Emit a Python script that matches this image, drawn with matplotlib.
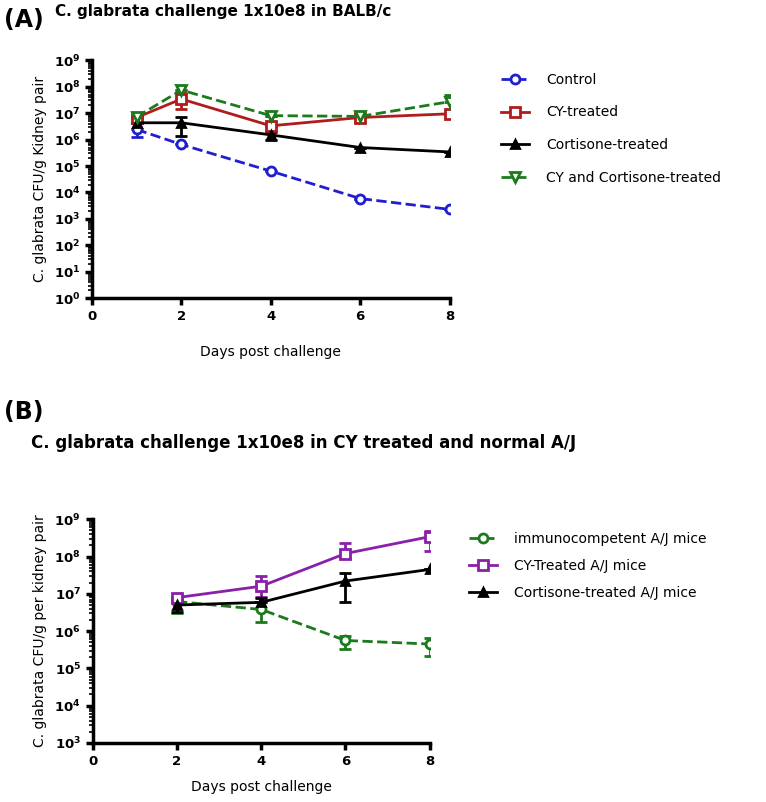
import numpy as np
import matplotlib
matplotlib.use("Agg")
import matplotlib.pyplot as plt
from matplotlib.ticker import FixedLocator, LogFormatterSciNotation, NullFormatter

# panel A: BALB/c
days_a = [1, 2, 4, 6, 8]
labels_a = ["Control", "CY-treated", "Cortisone-treated", "CY and Cortisone-treated"]
control = [2.4e6, 6.5e5, 6.4e4, 5.9e3, 2.3e3]
control_lo = [1.2e6, 6.5e5, 6.4e4, 5.9e3, 2.3e3]
control_hi = [2.4e6, 6.5e5, 6.4e4, 5.9e3, 2.3e3]
cy = [6.8e6, 3.4e7, 3.3e6, 6.8e6, 9.4e6]
cy_lo = [6.8e6, 1.4e7, 3.3e6, 6.8e6, 9.4e6]
cy_hi = [6.8e6, 5.5e7, 3.3e6, 6.8e6, 9.4e6]
cort = [4.3e6, 4.3e6, 1.5e6, 5.0e5, 3.4e5]
cort_lo = [4.3e6, 1.35e6, 1.0e6, 5.0e5, 3.4e5]
cort_hi = [4.3e6, 7.2e6, 1.9e6, 5.0e5, 3.4e5]
cy_cort = [7.2e6, 7.4e7, 8.0e6, 7.5e6, 2.7e7]
cy_cort_lo = [7.2e6, 7.4e7, 8.0e6, 7.5e6, 2.7e7]
cy_cort_hi = [7.2e6, 7.4e7, 8.0e6, 7.5e6, 5.0e7]

# panel B: A/J
days_b = [2, 4, 6, 8]
labels_b = ["immunocompetent A/J mice", "CY-Treated A/J mice", "Cortisone-treated A/J mice"]
immuno = [6.2e6, 3.8e6, 5.6e5, 4.5e5]
immuno_lo = [3.0e6, 1.7e6, 3.3e5, 2.2e5]
immuno_hi = [6.2e6, 6.2e6, 7.4e5, 6.5e5]
cy_aj = [7.9e6, 1.6e7, 1.2e8, 3.4e8]
cy_aj_lo = [7.9e6, 8.3e6, 9.0e7, 1.4e8]
cy_aj_hi = [7.9e6, 3.0e7, 2.3e8, 4.9e8]
cort_aj = [5.0e6, 5.9e6, 2.2e7, 4.5e7]
cort_aj_lo = [3.3e6, 5.9e6, 6.2e6, 4.5e7]
cort_aj_hi = [6.8e6, 7.6e6, 3.7e7, 4.5e7]


def err(y, lo, hi):
    y = np.array(y)
    return [y - np.array(lo), np.array(hi) - y]


def style_axes(ax, ymin, ymax):
    ax.set_yscale("log")
    ax.set_xlim(0, 8)
    ax.set_ylim(10.0 ** ymin, 10.0 ** ymax)
    ax.set_xticks([0, 2, 4, 6, 8])
    decades = np.arange(ymin, ymax + 1)
    ax.yaxis.set_major_locator(FixedLocator(10.0 ** decades))
    minors = [m * 10.0 ** d for d in decades[:-1] for m in range(2, 10)]
    ax.yaxis.set_minor_locator(FixedLocator(minors))
    ax.yaxis.set_major_formatter(LogFormatterSciNotation())
    ax.yaxis.set_minor_formatter(NullFormatter())
    for s in ["top", "right"]:
        ax.spines[s].set_visible(False)
    for s in ["left", "bottom"]:
        ax.spines[s].set_linewidth(2.5)
    ax.tick_params(which="major", length=5, width=2.5, labelsize=9.5)
    ax.tick_params(which="minor", length=3, width=1.2)
    for lab in ax.get_xticklabels() + ax.get_yticklabels():
        lab.set_fontweight("bold")


def series(ax, x, y, lo, hi, color, ls, marker, filled=False):
    c = ax.errorbar(x, y, yerr=err(y, lo, hi), color=color, ls=ls, lw=2,
                    marker=marker, ms=5.5 if filled else 6.5,
                    mfc=color if filled else "white", mew=2,
                    capsize=4, elinewidth=2, capthick=2)
    return c.lines[0]


fig = plt.figure(figsize=(7.66, 8.02), dpi=100)

axa = fig.add_axes([0.120, 0.628, 0.467, 0.297])
ha = [
    series(axa, days_a, control, control_lo, control_hi, "#1f1fd0", "--", "o"),
    series(axa, days_a, cy, cy_lo, cy_hi, "#b01c1c", "-", "s"),
    series(axa, days_a, cort, cort_lo, cort_hi, "black", "-", "^", filled=True),
    series(axa, days_a, cy_cort, cy_cort_lo, cy_cort_hi, "#1b7a1b", "--", "v"),
]
style_axes(axa, 0, 9)
axa.set_xlabel("Days post challenge", fontsize=10, labelpad=16)
axa.set_ylabel("C. glabrata CFU/g Kidney pair", fontsize=10, labelpad=5)
axa.legend(ha, labels_a, loc="upper left", bbox_to_anchor=(1.11, 1.0), frameon=False,
           fontsize=10, labelspacing=1.35, handlelength=2.0, handletextpad=1.2)

axb = fig.add_axes([0.121, 0.0736, 0.440, 0.279])
hb = [
    series(axb, days_b, immuno, immuno_lo, immuno_hi, "#1b7a1b", "--", "o"),
    series(axb, days_b, cy_aj, cy_aj_lo, cy_aj_hi, "#8a1fa8", "-", "s"),
    series(axb, days_b, cort_aj, cort_aj_lo, cort_aj_hi, "black", "-", "^", filled=True),
]
style_axes(axb, 3, 9)
axb.set_xlabel("Days post challenge", fontsize=10, labelpad=9)
axb.set_ylabel("C. glabrata CFU/g per kidney pair", fontsize=10, labelpad=5)
axb.legend(hb, labels_b, loc="upper left", bbox_to_anchor=(1.08, 1.0), frameon=False,
           fontsize=10, labelspacing=0.95, handlelength=2.0, handletextpad=1.2)

fig.text(0.005, 0.975, "(A)", fontsize=17, fontweight="bold", va="center")
fig.text(0.072, 0.986, "C. glabrata challenge 1x10e8 in BALB/c", fontsize=11,
         fontweight="bold", va="center")
fig.text(0.005, 0.486, "(B)", fontsize=17, fontweight="bold", va="center")
fig.text(0.04, 0.448, "C. glabrata challenge 1x10e8 in CY treated and normal A/J", fontsize=12,
         fontweight="bold", va="center")

fig.savefig("out.png", dpi=100)
